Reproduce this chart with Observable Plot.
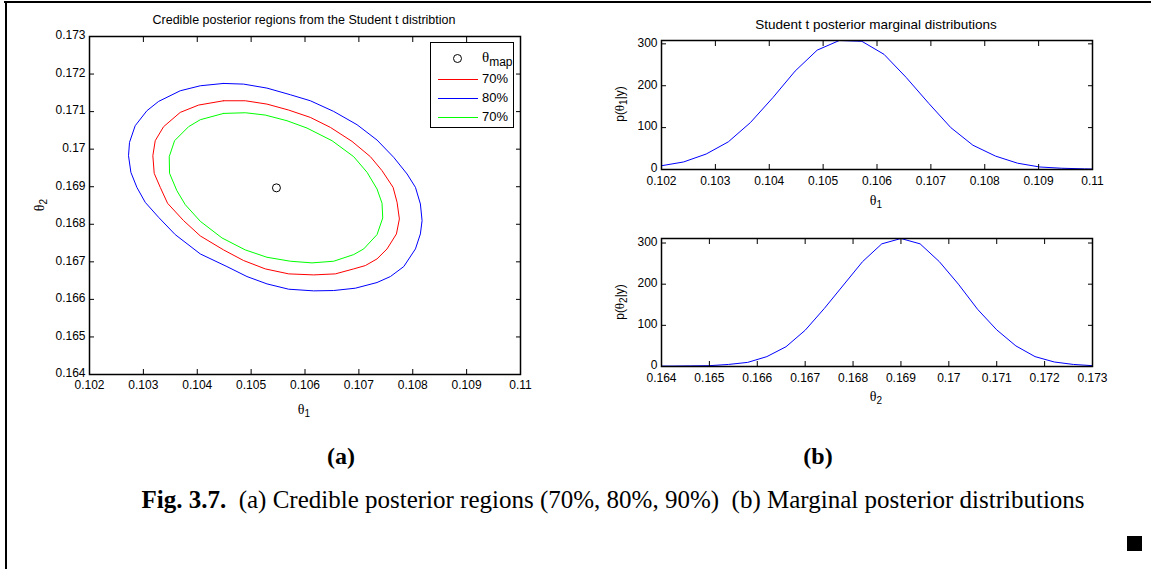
<!DOCTYPE html>
<html><head><meta charset="utf-8">
<script src="https://cdn.jsdelivr.net/npm/d3@7"></script>
<script src="https://cdn.jsdelivr.net/npm/@observablehq/plot@0.6"></script>
<style>
html,body{margin:0;padding:0;background:#fff;}
#page{position:relative;width:1151px;height:569px;overflow:hidden;font-family:"Liberation Sans",Arial,sans-serif;color:#000;}
.abs{position:absolute;}
.lbl{position:absolute;white-space:nowrap;font-size:12px;line-height:1;transform:translate(-50%,-50%);}
.rot{transform:translate(-50%,-50%) rotate(-90deg);}
.th{font-family:"Liberation Serif","Times New Roman",serif;font-size:14px;}
sub{font-size:10px;vertical-align:-3px;line-height:0;}
.ttl{position:absolute;white-space:nowrap;transform:translate(-50%,-50%);}
.cap{position:absolute;white-space:nowrap;font-family:"Liberation Serif","Times New Roman",serif;transform:translate(-50%,-50%);}
</style></head><body><div id="page"></div><script>
// ---------- data ----------
const mapPoint = [{x: 0.10547, y: 0.16897}];

const region80X = [0.104489,0.104861,0.105294,0.105728,0.106099,0.106533,0.106966,0.107337,0.107647,0.107895,0.108050,0.108142,0.108173,0.108142,0.108050,0.107833,0.107585,0.107337,0.106935,0.106533,0.106161,0.105697,0.105294,0.104923,0.104551,0.104056,0.103591,0.103282,0.103034,0.102879,0.102768,0.102724,0.102743,0.102848,0.103065,0.103282,0.103684,0.104056];
const region80Y = [0.171750,0.171732,0.171626,0.171449,0.171289,0.171005,0.170651,0.170243,0.169782,0.169339,0.168984,0.168541,0.168098,0.167743,0.167344,0.166874,0.166608,0.166449,0.166298,0.166236,0.166227,0.166271,0.166413,0.166608,0.166874,0.167211,0.167725,0.168186,0.168585,0.168984,0.169383,0.169826,0.170181,0.170624,0.171023,0.171271,0.171555,0.171688];

const region70RedX = [0.104489,0.104892,0.105294,0.105697,0.106099,0.106471,0.106873,0.107214,0.107430,0.107635,0.107709,0.107752,0.107697,0.107523,0.107337,0.107121,0.106904,0.106563,0.106161,0.105697,0.105263,0.104861,0.104489,0.104056,0.103746,0.103449,0.103313,0.103201,0.103176,0.103220,0.103375,0.103684,0.104025];
const region70RedY = [0.171289,0.171289,0.171200,0.171041,0.170846,0.170580,0.170207,0.169800,0.169427,0.168984,0.168585,0.168142,0.167743,0.167344,0.167078,0.166901,0.166812,0.166679,0.166652,0.166679,0.166812,0.167034,0.167317,0.167690,0.168098,0.168559,0.168984,0.169356,0.169826,0.170225,0.170598,0.170979,0.171174];

const region70GreenX = [0.104489,0.104892,0.105263,0.105666,0.106037,0.106502,0.106904,0.107152,0.107337,0.107430,0.107443,0.107337,0.107090,0.106904,0.106533,0.106130,0.105728,0.105294,0.104892,0.104458,0.104056,0.103777,0.103622,0.103486,0.103480,0.103579,0.103839,0.104056];
const region70GreenY = [0.170952,0.170970,0.170908,0.170757,0.170562,0.170225,0.169800,0.169383,0.168940,0.168559,0.168168,0.167725,0.167344,0.167193,0.167016,0.166972,0.167016,0.167122,0.167317,0.167637,0.168080,0.168523,0.168895,0.169356,0.169800,0.170225,0.170598,0.170784];

const theta1Grid = [0.10200,0.10241,0.10283,0.10324,0.10365,0.10407,0.10448,0.10489,0.10530,0.10572,0.10613,0.10654,0.10696,0.10737,0.10778,0.10820,0.10861,0.10902,0.10943,0.10985,0.11026];
const theta1Density = [9,18,37,66,112,172,235,285,308,306,275,220,158,100,58,32,15,6,3,1.5,0.7];

const theta2Grid = [0.1638,0.1642,0.1646,0.1650,0.1654,0.1658,0.1662,0.1666,0.1670,0.1674,0.1678,0.1682,0.1686,0.1690,0.1694,0.1698,0.1702,0.1706,0.1710,0.1714,0.1718,0.1722,0.1726,0.1730];
const theta2Density = [1,1,1.5,2,5,10,24,48,88,141,198,255,298,311,298,255,200,139,89,50,24,11,5,2];

const theta1Ticks = [0.102,0.103,0.104,0.105,0.106,0.107,0.108,0.109,0.11];
const theta2Ticks = [0.164,0.165,0.166,0.167,0.168,0.169,0.17,0.171,0.172,0.173];
const densityTicks = [0,100,200,300];

// ---------- helpers ----------
const page = document.getElementById("page");
const fmt = d3.format("~g");
const pts = (xs, ys) => { const a = xs.map((x, i) => ({x, y: ys[i]})); a.push(a[0]); return a; };

function boxPlot({width, height, ml, mt, mr, mb, xDomain, yDomain, xTicks, yTicks, xPad = 6, marks}) {
  return Plot.plot({
    width, height, marginLeft: ml, marginTop: mt, marginRight: mr, marginBottom: mb,
    x: {domain: xDomain}, y: {domain: yDomain},
    style: {fontFamily: '"Liberation Sans", Arial, sans-serif', fontSize: "12px", color: "#000", background: "transparent", overflow: "visible"},
    marks: [
      ...marks,
      Plot.axisX({ticks: xTicks, anchor: "bottom", tickSize: 0, tickPadding: xPad, tickFormat: fmt, label: null, fill: "#000", fontSize: 12}),
      Plot.axisX({ticks: xTicks, anchor: "bottom", tickSize: -5, tickFormat: () => "", label: null}),
      Plot.axisX({ticks: xTicks, anchor: "top", tickSize: -5, tickFormat: () => "", label: null}),
      Plot.axisY({ticks: yTicks, anchor: "left", tickSize: 0, tickPadding: 4, dy: -1, tickFormat: fmt, label: null, fill: "#000", fontSize: 12}),
      Plot.axisY({ticks: yTicks, anchor: "left", tickSize: -5, tickFormat: () => "", label: null}),
      Plot.axisY({ticks: yTicks, anchor: "right", tickSize: -5, tickFormat: () => "", label: null}),
      Plot.frame({stroke: "#000", strokeWidth: 1.5})
    ]
  });
}
function place(el, left, top) {
  const w = document.createElement("div");
  w.className = "abs"; w.style.left = left + "px"; w.style.top = top + "px";
  w.appendChild(el); page.appendChild(w);
}
function html(cls, x, y, inner, style = "") {
  const d = document.createElement("div");
  d.className = cls; d.style.left = x + "px"; d.style.top = y + "px";
  d.innerHTML = inner; if (style) d.style.cssText += style;
  page.appendChild(d);
  return d;
}

// ---------- page frame ----------
html("abs", 4, 1, "", "width:1147px;height:2px;background:#000;");
html("abs", 5, 1, "", "width:2px;height:568px;background:#000;");

// ---------- (a) credible regions ----------
place(boxPlot({
  width: 560, height: 430, ml: 89, mt: 36, mr: 40, mb: 56,
  xDomain: [0.102, 0.110], yDomain: [0.164, 0.173],
  xTicks: theta1Ticks, yTicks: [0.164,0.165,0.166,0.167,0.168,0.169,0.17,0.171,0.172,0.173],
  marks: [
    Plot.line(pts(region80X, region80Y), {x: "x", y: "y", stroke: "#0000ff", strokeWidth: 1}),
    Plot.line(pts(region70RedX, region70RedY), {x: "x", y: "y", stroke: "#ff0000", strokeWidth: 1}),
    Plot.line(pts(region70GreenX, region70GreenY), {x: "x", y: "y", stroke: "#00ff00", strokeWidth: 1}),
    Plot.dot(mapPoint, {x: "x", y: "y", r: 4, stroke: "#000", fill: "none", strokeWidth: 1})
  ]
}), 0, 0);

html("ttl", 304, 20, "Credible posterior regions from the Student t distribtion", "font-size:12.5px;");
html("lbl", 304, 410, '<span class="th">θ</span><sub>1</sub>');
html("lbl rot", 40, 205, '<span class="th">θ</span><sub>2</sub>');

// legend
html("abs", 430, 42, "", "width:84px;height:86px;border:1.5px solid #000;background:#fff;box-sizing:border-box;");
html("abs", 453, 54, "", "width:9px;height:9px;border:1px solid #000;border-radius:50%;box-sizing:border-box;");
html("abs", 482, 50, '<span class="th" style="font-size:15px">θ</span><sub style="font-size:12px;vertical-align:-4px">map</sub>', "font-size:12px;white-space:nowrap;line-height:14px;");
const legendRows = [["#ff0000", "70%", 79], ["#0000ff", "80%", 98], ["#00ff00", "70%", 117]];
for (const [c, t, y] of legendRows) {
  html("abs", 438, y, "", `width:40px;height:1.3px;background:${c};`);
  html("abs", 482, y - 7, t, "font-size:13px;line-height:14px;");
}

// ---------- (b) marginals ----------
place(boxPlot({
  width: 591, height: 200, ml: 101, mt: 40, mr: 59, mb: 31, xPad: 7,
  xDomain: [0.102, 0.110], yDomain: [0, d3.max(theta1Density)],
  xTicks: theta1Ticks, yTicks: densityTicks,
  marks: [Plot.line(theta1Grid.map((x, i) => ({x, y: theta1Density[i]})), {x: "x", y: "y", stroke: "#0000ff", strokeWidth: 1, clip: true})]
}), 560, 0);

place(boxPlot({
  width: 591, height: 200, ml: 101, mt: 38, mr: 59, mb: 34, xPad: 7,
  xDomain: [0.164, 0.173], yDomain: [0, d3.max(theta2Density)],
  xTicks: theta2Ticks, yTicks: densityTicks,
  marks: [Plot.line(theta2Grid.map((x, i) => ({x, y: theta2Density[i]})), {x: "x", y: "y", stroke: "#0000ff", strokeWidth: 1, clip: true})]
}), 560, 200);

html("ttl", 876, 24, "Student t posterior marginal distributions", "font-size:13.5px;");
html("lbl", 876, 201, '<span class="th">θ</span><sub>1</sub>');
html("lbl", 876, 397, '<span class="th">θ</span><sub>2</sub>');
html("lbl rot", 619, 104, 'p(<span class="th" style="font-size:13px">θ</span><sub>1</sub>|y)', "font-size:12px;");
html("lbl rot", 619, 302, 'p(<span class="th" style="font-size:13px">θ</span><sub>2</sub>|y)', "font-size:12px;");

// ---------- captions ----------
html("cap", 341, 456, "<b>(a)</b>", "font-size:24px;");
html("cap", 818, 456, "<b>(b)</b>", "font-size:24px;");
html("cap", 613, 500, "<b>Fig. 3.7.</b>&nbsp; (a) Credible posterior regions (70%, 80%, 90%)&nbsp; (b) Marginal posterior distributions", "font-size:25px;");
html("abs", 1127, 536, "", "width:15px;height:15px;background:#000;");
</script></body></html>
